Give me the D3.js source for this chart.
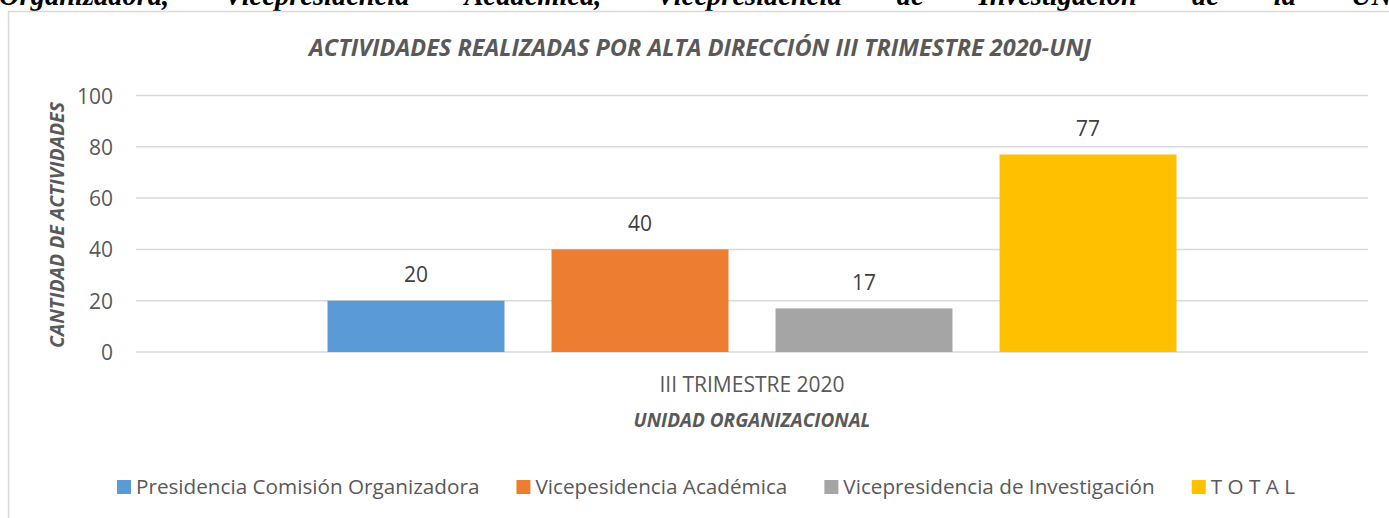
<!DOCTYPE html>
<html>
<head>
<meta charset="utf-8">
<script src="https://cdn.jsdelivr.net/npm/d3@7"></script>
<style>
  html, body { margin: 0; padding: 0; background: #fff; overflow: hidden; }
  svg { display: block; }
</style>
</head>
<body>
<svg id="chart" width="1389" height="518"></svg>
<script>
// ---- data ----
const categories = ["III TRIMESTRE 2020"];
const seriesNames = ["Presidencia Comisión Organizadora", "Vicepesidencia Académica", "Vicepresidencia de Investigación", "T O T A L"];
const seriesValues = [20, 40, 17, 77];
const seriesColors = ["#5b9bd5", "#ed7d31", "#a5a5a5", "#ffc000"];
const yTicks = [0, 20, 40, 60, 80, 100];
const chartTitle = "ACTIVIDADES REALIZADAS POR ALTA DIRECCIÓN III TRIMESTRE 2020-UNJ";
const xTitle = "UNIDAD ORGANIZACIONAL";
const yTitle = "CANTIDAD DE ACTIVIDADES";
const headerWords = ["Organizadora,", "Vicepresidencia", "Académica,", "Vicepresidencia", "de", "Investigación", "de", "la", "UNJ."];

const svg = d3.select("#chart");
const W = 1389, H = 518;
const font = "'Open Sans', 'Liberation Sans', sans-serif";
const txt = "#595959";

// clipped body text at top (document paragraph)
const hdr = svg.append("g").attr("font-family", "'Liberation Serif', 'DejaVu Serif', serif")
  .attr("font-weight", "bold").attr("font-style", "italic").attr("font-size", 28.5).attr("fill", "#000");
let hx = -1;
headerWords.forEach(w => {
  const t = hdr.append("text").attr("x", hx).attr("y", 4.5).text(w);
  hx += t.node().getComputedTextLength() + 55;
});

// chart frame (left and top borders visible)
svg.append("path").attr("d", `M8.5,${H} V11.5 H${W + 5}`)
  .attr("fill", "none").attr("stroke", "#d9d9d9").attr("stroke-width", 1.5);

const plot = { left: 136, right: 1368, top: 95.5, bottom: 352 };

const y = d3.scaleLinear().domain([0, 100]).range([plot.bottom, plot.top]);
const x0 = d3.scaleBand().domain(categories).range([plot.left, plot.right]).paddingInner(0).paddingOuter(0.2256);
const x1 = d3.scaleBand().domain(seriesNames).range([0, x0.bandwidth()]).paddingInner(0.21).paddingOuter(0);

// gridlines
svg.append("g").selectAll("line").data(yTicks).join("line")
  .attr("x1", plot.left).attr("x2", plot.right)
  .attr("y1", d => y(d)).attr("y2", d => y(d))
  .attr("stroke", "#d9d9d9").attr("stroke-width", 1.5);

// y axis labels
const yAxis = d3.axisLeft(y).tickValues(yTicks).tickSize(0).tickPadding(0);
const ya = svg.append("g").attr("transform", `translate(113,0)`).call(yAxis);
ya.select(".domain").remove();
ya.selectAll("text").attr("font-family", font).attr("font-size", 21).attr("fill", txt).attr("dy", "0.36em");

// bars
const grp = svg.append("g").selectAll("g").data(categories).join("g")
  .attr("transform", d => `translate(${x0(d)},0)`);
grp.selectAll("rect").data(() => seriesNames.map((s, i) => ({ s, v: seriesValues[i], c: seriesColors[i] })))
  .join("rect")
  .attr("x", d => x1(d.s)).attr("width", x1.bandwidth())
  .attr("y", d => y(d.v)).attr("height", d => y(0) - y(d.v))
  .attr("fill", d => d.c);
grp.selectAll("text.val").data(() => seriesNames.map((s, i) => ({ s, v: seriesValues[i] })))
  .join("text").attr("class", "val")
  .attr("x", d => x1(d.s) + x1.bandwidth() / 2).attr("y", d => y(d.v) - 18.5)
  .attr("text-anchor", "middle").attr("font-family", font).attr("font-size", 21).attr("fill", "#404040")
  .text(d => d.v);

// x axis category labels
const xAxis = d3.axisBottom(x0).tickSize(0).tickPadding(0);
const xa = svg.append("g").attr("transform", `translate(0,${plot.bottom})`).call(xAxis);
xa.select(".domain").remove();
xa.selectAll("text").attr("font-family", font).attr("font-size", 21).attr("fill", txt)
  .attr("y", 40).attr("dy", 0);

// titles
svg.append("text").attr("x", 700).attr("y", 55.5).attr("text-anchor", "middle")
  .attr("font-family", font).attr("font-weight", "bold").attr("font-style", "italic")
  .attr("font-size", 23.5).attr("fill", txt).text(chartTitle);
svg.append("text").attr("x", (plot.left + plot.right) / 2).attr("y", 427).attr("text-anchor", "middle")
  .attr("font-family", font).attr("font-weight", "bold").attr("font-style", "italic")
  .attr("font-size", 19).attr("fill", txt).text(xTitle);
svg.append("text").attr("transform", "translate(64,225) rotate(-90)").attr("text-anchor", "middle")
  .attr("font-family", font).attr("font-weight", "bold").attr("font-style", "italic")
  .attr("font-size", 19.5).attr("fill", txt).text(yTitle);

// legend
const leg = svg.append("g");
const items = leg.selectAll("g").data(seriesNames).join("g");
items.append("rect").attr("width", 14).attr("height", 14).attr("y", -7)
  .attr("fill", (d, i) => seriesColors[i]);
items.append("text").attr("x", 19).attr("dy", "0.36em")
  .attr("font-family", font).attr("font-size", 20.7).attr("fill", txt).text(d => d);
let lx = 0;
const gapL = 37;
const widths = [];
items.each(function () {
  const w = 19 + d3.select(this).select("text").node().getComputedTextLength();
  widths.push(w);
});
const total = d3.sum(widths) + gapL * (widths.length - 1);
lx = 706 - total / 2;
items.attr("transform", (d, i) => {
  const t = `translate(${lx},487)`;
  lx += widths[i] + gapL;
  return t;
});
</script>
</body>
</html>
